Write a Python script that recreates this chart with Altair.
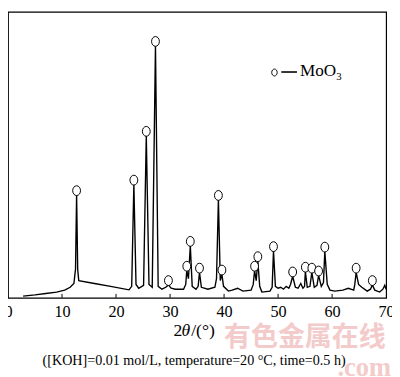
import altair as alt
import pandas as pd

# XRD profile (2theta in degrees, intensity in arbitrary units)
curve_x = [2.8, 5.0, 7.0, 9.0, 10.5, 11.5, 12.2, 12.5, 12.7, 12.9, 13.1,
           16.0, 19.0, 22.4, 22.9, 23.3, 23.7, 24.2, 25.1, 25.6, 26.1, 26.7,
           27.3, 27.8, 28.5, 29.2, 29.7, 30.2, 31.0, 32.5, 32.9, 33.1, 33.4,
           33.75, 34.1, 34.8, 35.2, 35.45, 35.8, 37.0, 38.3, 38.6, 38.95, 39.3,
           39.6, 39.9, 40.8, 41.5, 42.5, 43.5, 45.0, 45.4, 45.65, 45.95, 46.25,
           46.6, 47.0, 48.5, 48.9, 49.15, 49.5, 50.0, 50.5, 51.0, 51.5, 52.0,
           52.3, 52.7, 53.2, 53.7, 54.2, 54.6, 54.9, 55.05, 55.4, 55.9, 56.25,
           56.7, 57.2, 57.5, 58.0, 58.4, 58.65, 59.1, 59.6, 60.5, 62.0, 63.0,
           64.0, 64.2, 64.45, 64.9, 65.5, 66.5, 67.1, 67.45, 67.9, 68.8, 69.4,
           69.75, 70.0]
curve_y = [1.7, 3.0, 4.5, 6.0, 8.0, 11.0, 15.0, 30.0, 107.5, 30.0, 18.0,
           15.0, 12.0, 8.3, 12.0, 118.5, 14.0, 10.0, 13.0, 169.5, 14.0, 11.0,
           263.5, 12.0, 9.0, 11.0, 13.5, 10.0, 9.0, 9.0, 14.0, 28.5, 20.0,
           54.5, 12.0, 9.0, 12.0, 26.5, 11.0, 9.0, 11.0, 20.0, 102.5, 18.0,
           24.5, 12.0, 7.0, 8.0, 10.0, 7.0, 8.0, 14.0, 28.5, 18.0, 38.5,
           12.0, 6.0, 7.0, 11.0, 49.0, 12.0, 10.0, 11.0, 9.0, 12.0, 10.0,
           14.0, 22.5, 11.0, 10.0, 15.0, 10.0, 12.0, 27.5, 11.0, 12.0, 26.5,
           11.0, 13.0, 23.5, 12.0, 16.0, 48.5, 14.0, 8.0, 7.0, 8.0, 10.0,
           8.0, 14.0, 26.5, 14.0, 11.0, 7.0, 9.0, 13.5, 8.0, 6.0, 9.0,
           13.0, 9.0]

# MoO3 peak markers (position, marker centre height)
peak_x = [12.7, 23.3, 25.6, 27.3, 29.7, 33.1, 33.75, 35.45, 38.95, 39.6,
          45.65, 46.25, 49.15, 52.7, 55.05, 56.25, 57.5, 58.65, 64.45, 67.45]
peak_y = [112, 123, 174, 268, 18, 33, 59, 31, 107, 29,
          33, 43, 53.5, 27, 32, 31, 28, 53, 31, 18]

tick_values = [0, 10, 20, 30, 40, 50, 60, 70]
inner_ticks = [10, 20, 30, 40, 50, 60]

legend_label = "MoO"
legend_sub = "3"
caption = "([KOH]=0.01 mol/L, temperature=20 °C, time=0.5 h)"
watermark = "有色金属在线"
watermark2 = ".com"

W, H = 386, 292
SERIF = "Liberation Serif"
ELLIPSE = "M -0.8 0 A 0.8 1 0 1 1 0.8 0 A 0.8 1 0 1 1 -0.8 0 Z"

curve_df = pd.DataFrame({"x": curve_x, "y": curve_y})
peaks_df = pd.DataFrame({"x": peak_x, "y": peak_y})
ticks_df = pd.DataFrame({"t": inner_ticks})

xscale = alt.Scale(domain=[0, 70], nice=False, zero=False)
yscale = alt.Scale(domain=[0, 299], nice=False)

xaxis = alt.Axis(values=tick_values, labelFont=SERIF, labelFontSize=16.5,
                 labelColor="black", labelPadding=6, ticks=False, tickSize=0,
                 domain=False, grid=False, title=None, labelFlush=False,
                 labelOverlap=False)

one = pd.DataFrame({"a": [0]})

wm = alt.Chart(one).mark_text(text=watermark, font="Noto Sans CJK SC",
                              fontSize=27.5, fontWeight="bold", color="#f3cbcb",
                              align="center", baseline="middle").encode(
    x=alt.value(303), y=alt.value(333))
wm2 = alt.Chart(one).mark_text(text=watermark2, font=SERIF, fontSize=27,
                               fontWeight="bold", color="#f3cbcb",
                               align="right", baseline="alphabetic").encode(
    x=alt.value(391), y=alt.value(372))

line = alt.Chart(curve_df).mark_line(color="black", strokeWidth=1.4).encode(
    x=alt.X("x:Q", scale=xscale, axis=xaxis),
    y=alt.Y("y:Q", scale=yscale, axis=None))

pts = alt.Chart(peaks_df).mark_point(shape=ELLIPSE, size=100, filled=True,
                                     fill="white", stroke="black",
                                     strokeWidth=1, opacity=1).encode(
    x=alt.X("x:Q", scale=xscale), y=alt.Y("y:Q", scale=yscale))

ticks = alt.Chart(ticks_df).mark_rule(color="black", strokeWidth=1).encode(
    x=alt.X("t:Q", scale=xscale), y=alt.value(H - 4), y2=alt.value(H))

leg_pt = alt.Chart(one).mark_point(shape=ELLIPSE, size=49, filled=True,
                                   fill="white", stroke="black",
                                   strokeWidth=1, opacity=1).encode(
    x=alt.value(272), y=alt.value(62))
leg_dash = alt.Chart(one).mark_rule(color="black", strokeWidth=1.6).encode(
    x=alt.value(279), x2=alt.value(295), y=alt.value(61.5))
leg_txt = alt.Chart(one).mark_text(text=legend_label, font=SERIF, fontSize=17.5,
                                   align="left", baseline="alphabetic",
                                   color="black").encode(
    x=alt.value(298), y=alt.value(66))
leg_sub = alt.Chart(one).mark_text(text=legend_sub, font=SERIF, fontSize=11,
                                   align="left", baseline="alphabetic",
                                   color="black").encode(
    x=alt.value(335), y=alt.value(70))

t1 = alt.Chart(one).mark_text(text="2", font=SERIF, fontSize=18, align="left",
                              baseline="alphabetic", color="black").encode(
    x=alt.value(169), y=alt.value(331))
t2 = alt.Chart(one).mark_text(text="θ", font=SERIF, fontSize=18,
                              fontStyle="italic", align="left",
                              baseline="alphabetic", color="black").encode(
    x=alt.value(177), y=alt.value(331))
t3 = alt.Chart(one).mark_text(text="/(°)", font=SERIF, fontSize=18,
                              align="left", baseline="alphabetic",
                              color="black").encode(
    x=alt.value(187), y=alt.value(331))

cap = alt.Chart(one).mark_text(text=caption, font=SERIF, fontSize=14.4,
                               align="center", baseline="alphabetic",
                               color="black").encode(
    x=alt.value(190), y=alt.value(361))

chart = alt.layer(wm, wm2, line, ticks, pts, leg_pt, leg_dash, leg_txt,
                  leg_sub, t1, t2, t3, cap).properties(
    width=W, height=H,
    autosize=alt.AutoSizeParams(type="none"),
    padding={"left": 0, "top": 0, "right": 6, "bottom": 77},
    background="white",
).configure_view(stroke="black", strokeWidth=1.2)

chart.save("out.html", embed_options={"renderer": "svg", "actions": False})
